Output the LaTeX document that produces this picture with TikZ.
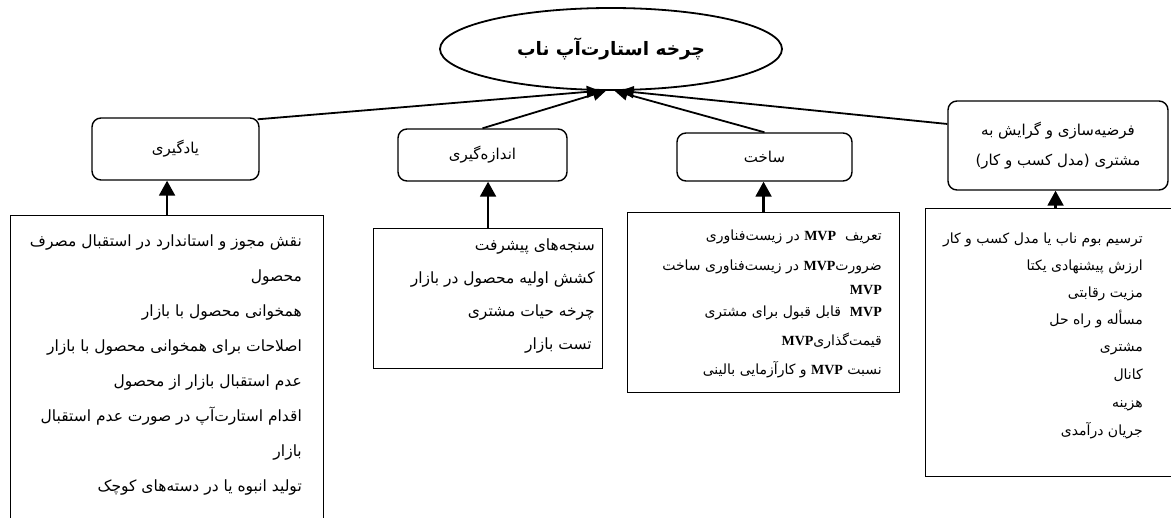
\documentclass[tikz,border=0pt]{standalone}
\usepackage{fontspec}
\usetikzlibrary{arrows.meta,shapes.geometric}
\TeXXeTstate=1
\newfontfamily\fafont[Script=Arabic]{DejaVu Sans}
\newfontfamily\dejafont{DejaVu Sans}
\newfontfamily\latfont{Liberation Serif}
\newcommand\fatx[1]{{\fafont\beginR #1\endR}}
\newcommand\mvp{{\latfont\bfseries MVP}}
\begin{document}
\begin{tikzpicture}[x=1pt,y=-1pt,
  catbox/.style={draw, line width=1.4pt, rounded corners=9pt, inner sep=0pt, align=center, font=\fafont\fontsize{15}{18}\selectfont},
  detbox/.style={draw, line width=1.1pt, inner sep=0pt, anchor=north west},
  ln/.style={anchor=east, inner sep=0pt, text height=11pt, text depth=4pt, font=\fafont\fontsize{15.5}{18}\selectfont},
  lnb/.style={anchor=east, inner sep=0pt, text height=10pt, text depth=4pt, font=\fafont\fontsize{14}{17}\selectfont},
  lnh/.style={anchor=east, inner sep=0pt, text height=10pt, text depth=4pt, font=\fafont\fontsize{14}{17}\selectfont},
  upar/.style={line width=2.2pt, -{Triangle[width=16pt,length=15pt]}},
  toel/.style={line width=1.8pt, -{Triangle[width=12pt,length=13pt]}}]
\useasboundingbox (0,0) rectangle (1171,518);
\fill[white] (0,0) rectangle (1171,518);

% top ellipse
\node[draw, ellipse, line width=1.8pt, minimum width=342pt, minimum height=82pt, inner sep=0pt,
  font=\fafont\bfseries\fontsize{18.5}{21}\selectfont] (e) at (611,49) {\fatx{چرخه استارت‌آپ ناب}};

% category boxes
\node[catbox, minimum width=167pt, minimum height=62pt] (l) at (175.5,149) {\fatx{یادگیری}};
\node[catbox, minimum width=169pt, minimum height=52pt] (m) at (482.5,155) {\fatx{اندازه‌گیری}};
\node[catbox, minimum width=175pt, minimum height=48pt] (b) at (764.5,157) {\fatx{ساخت}};
\node[catbox, minimum width=220pt, minimum height=89pt] (h) at (1058,145.5)
  {\fatx{فرضیه‌سازی و گرایش به}\\[12pt]\fatx{مشتری \hbox{\dejafont )}مدل کسب و کار\hbox{\dejafont (}}};

% detail boxes
\node[detbox, minimum width=313pt, minimum height=330pt] (ld) at (10,215) {};
\node[detbox, minimum width=229pt, minimum height=140pt] (md) at (373,228) {};
\node[detbox, minimum width=272pt, minimum height=180pt] (bd) at (627,212) {};
\node[detbox, minimum width=260pt, minimum height=268pt] (hd) at (925,208) {};

% learning lines
\node[ln] (l1) at (302,243) {\fatx{نقش مجوز و استاندارد در استقبال مصرف}};
\node[ln] (l2) at (302,278) {\fatx{محصول}};
\node[ln] (l3) at (302,313) {\fatx{همخوانی محصول با بازار}};
\node[ln] (l4) at (302,348) {\fatx{اصلاحات برای همخوانی محصول با بازار}};
\node[ln] (l5) at (302,383) {\fatx{عدم استقبال بازار از محصول}};
\node[ln] (l6) at (302,418) {\fatx{اقدام استارت‌آپ در صورت عدم استقبال}};
\node[ln] (l7) at (302,453) {\fatx{بازار}};
\node[ln] (l8) at (302,488) {\fatx{تولید انبوه یا در دسته‌های کوچک}};

% measurement lines
\node[ln] (m1) at (595,247) {\fatx{سنجه‌های پیشرفت}};
\node[ln] (m2) at (595,280) {\fatx{کشش اولیه محصول در بازار}};
\node[ln] (m3) at (595,313) {\fatx{چرخه حیات مشتری}};
\node[ln] (m4) at (592,346) {\fatx{تست بازار}};

% building lines
\node[lnb] (b1) at (882,238) {\fatx{تعریف \ \mvp{} در زیست‌فناوری}};
\node[lnb] (b2) at (882,268) {\fatx{ضرورت\mvp{} در زیست‌فناوری ساخت}};
\node[lnb] (b3) at (882,292) {\mvp};
\node[lnb] (b4) at (882,314) {\fatx{\mvp{} \ قابل قبول برای مشتری}};
\node[lnb] (b5) at (882,343) {\fatx{قیمت‌گذاری\mvp}};
\node[lnb] (b6) at (882,372) {\fatx{نسبت \mvp{} و کارآزمایی بالینی}};

% hypothesis lines
\node[lnh] (h1) at (1143,241) {\fatx{ترسیم بوم ناب یا مدل کسب و کار}};
\node[lnh] (h2) at (1143,268) {\fatx{ارزش پیشنهادی یکتا}};
\node[lnh] (h3) at (1143,295) {\fatx{مزیت رقابتی}};
\node[lnh] (h4) at (1143,322) {\fatx{مسأله و راه حل}};
\node[lnh] (h5) at (1143,349) {\fatx{مشتری}};
\node[lnh] (h6) at (1143,377) {\fatx{کانال}};
\node[lnh] (h7) at (1143,405) {\fatx{هزینه}};
\node[lnh] (h8) at (1143,433) {\fatx{جریان درآمدی}};

% arrows up from details
\draw[upar] (ld.north) -- (ld.north |- l.south);
\draw[upar] (md.north) -- (md.north |- m.south);
\draw[upar] (bd.north) -- (bd.north |- b.south);
\draw[upar] (hd.north) -- (hd.north |- h.south);

% arrows to ellipse
\draw[toel] ([xshift=-2pt,yshift=-2pt]l.north east) -- (e.-105);
\draw[toel] (m.north) -- (e.-97);
\draw[toel] (b.north) -- (e.-85);
\draw[toel] (h.169) -- (e.-77);
\end{tikzpicture}
\end{document}
